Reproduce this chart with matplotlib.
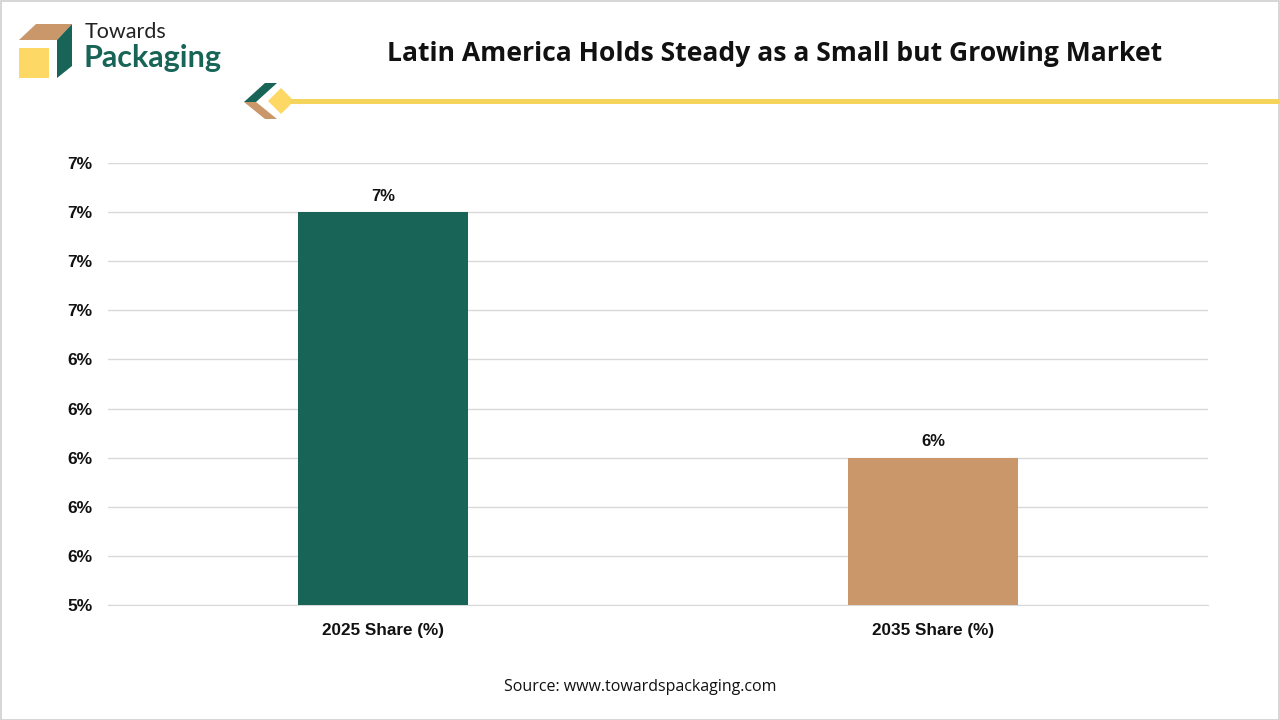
import matplotlib
matplotlib.use("Agg")
import matplotlib.pyplot as plt
from matplotlib.patches import Polygon, Rectangle
from matplotlib.ticker import MultipleLocator, FuncFormatter

categories = ["2025 Share (%)", "2035 Share (%)"]
values = [7.0, 6.0]
value_labels = ["7%", "6%"]
bar_colors = ["#186457", "#c9976a"]
title = "Latin America Holds Steady as a Small but Growing Market"
source = "Source: www.towardspackaging.com"

W, H = 1280, 720
fig = plt.figure(figsize=(W / 100, H / 100), dpi=100)
fig.patch.set_facecolor("white")

def px(x, y):
    return (x / W, 1 - y / H)

# border
fig.add_artist(Rectangle((0.5 / W, 0.5 / H), 1 - 1.5 / W, 1 - 1.5 / H, transform=fig.transFigure,
                         fill=False, edgecolor="#d0d0d0", linewidth=1.2))

# logo
def poly(points, color):
    fig.add_artist(Polygon([px(*p) for p in points], closed=True, transform=fig.transFigure,
                           facecolor=color, edgecolor="none"))

poly([(19, 48), (49, 48), (49, 78), (19, 78)], "#fdd865")
poly([(19, 40), (36, 24), (72, 24), (57, 40)], "#c9976a")
poly([(57, 40), (72, 24), (72, 66), (57, 78)], "#186457")
fig.text(*px(85, 32), "Towards", fontsize=15.5, family="Lato", color="#222222", va="center", ha="left")
fig.text(*px(84, 58), "Packaging", fontsize=22, family="Lato", fontweight="bold", color="#186457",
         va="center", ha="left")

# decoration
poly([(244, 102), (265, 83), (277, 83), (256, 102)], "#186457")
poly([(244, 102), (256, 102), (277, 119), (265, 119)], "#c9976a")
poly([(268, 101), (281, 88), (294, 101), (281, 114)], "#fdd865")
fig.add_artist(Rectangle(px(290, 104), (W - 290) / W, 5 / H, transform=fig.transFigure,
                         facecolor="#f5d45c", edgecolor="none"))

fig.text(*px(775, 54), title, fontsize=19.1, fontweight="bold", family="Open Sans",
         ha="center", va="center", color="#111111")

ax = fig.add_axes([108 / W, 115 / H, 1100 / W, 442 / H])
x = list(range(len(categories)))
bars = ax.bar(x, values, width=0.31, color=bar_colors, zorder=3)
ax.set_xlim(-0.5, 1.5)
ax.set_ylim(5.4, 7.2)
ax.yaxis.set_major_locator(MultipleLocator(0.2))
ax.yaxis.set_major_formatter(FuncFormatter(lambda v, p: f"{v:.0f}%"))
ax.grid(axis="y", color="#d9d9d9", linewidth=1, zorder=0)
ax.set_axisbelow(True)
for s in ["top", "right", "left"]:
    ax.spines[s].set_visible(False)
ax.spines["bottom"].set_color("#d9d9d9")
ax.tick_params(axis="y", length=0, pad=11)
ax.tick_params(axis="x", length=0, pad=13)
ax.set_xticks(x)
ax.set_xticklabels(categories)
for lbl in ax.get_yticklabels():
    lbl.set_fontsize(12.5)
for lbl in ax.get_xticklabels():
    lbl.set_fontsize(12.3)
for lbl in ax.get_yticklabels() + ax.get_xticklabels():
    lbl.set_fontweight("bold")
    lbl.set_family("Liberation Sans")
    lbl.set_color("#111111")
for b, t in zip(bars, value_labels):
    ax.annotate(t, (b.get_x() + b.get_width() / 2, b.get_height()), xytext=(0, 6),
                textcoords="offset points", ha="center", va="bottom", fontsize=12,
                fontweight="bold", family="Liberation Sans", color="#111111")

fig.text(*px(640, 687), source, fontsize=11.5, family="Open Sans", ha="center", va="center",
         color="#111111")

fig.savefig("out.png", dpi=100)
